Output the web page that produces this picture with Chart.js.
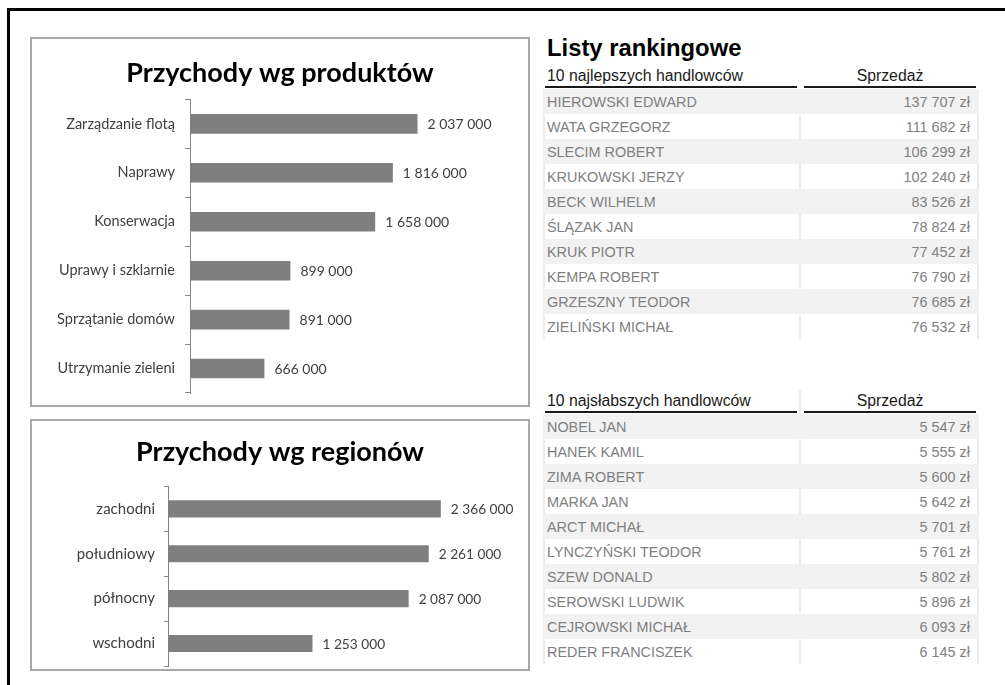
<!DOCTYPE html>
<html lang="pl">
<head>
<meta charset="UTF-8">
<title>Przychody i listy rankingowe</title>
<script src="https://cdn.jsdelivr.net/npm/chart.js"></script>
<style>
  html, body { margin: 0; padding: 0; background: #fff; overflow: hidden; }
  body { width: 1005px; height: 685px; position: relative; }
  .ramka { position: absolute; left: 7px; top: 8px; width: 1100px; height: 800px; border: 3px solid #000; }
  .box { position: absolute; left: 30px; width: 500px; box-sizing: border-box; border: 2px solid #a8a8a8; background: #fff; }
  .wykres { position: absolute; left: 32px; width: 496px; }
  .tytul { position: absolute; left: 547px; top: 35px; font: bold 23.8px/26px "Liberation Sans", Arial, sans-serif; color: #000; }
  .naglowek { position: absolute; height: 22px; box-sizing: border-box; border-bottom: 2px solid #1a1a1a;
              font: 15.8px/20px "Liberation Sans", Arial, sans-serif; color: #1a1a1a; white-space: nowrap; }
  .wiersz { position: absolute; left: 543px; width: 436px; height: 25px; display: flex;
            font: 14.4px/23px "Liberation Sans", Arial, sans-serif; color: #808080; }
  .wiersz div { box-sizing: border-box; height: 25px; padding-top: 2px; white-space: nowrap; border-style: solid; border-width: 0; }
  .wiersz .n { width: 257px; padding-left: 2px; border-left-width: 2px; border-right-width: 1px; }
  .wiersz .v { width: 179px; padding-right: 7px; text-align: right; border-left-width: 1px; border-right-width: 2px; }
  .wiersz.szary { background: #f2f2f2; }
  .wiersz.szary div { border-color: #f2f2f2; }
  .wiersz.bialy div { border-color: #ebebeb; }
</style>
</head>
<body>
<div class="ramka"></div>

<div class="box" style="top:37px;height:370px;"></div>
<div class="wykres" style="top:39px;height:366px;"><canvas id="wykresProdukty"></canvas></div>

<div class="box" style="top:419px;height:252px;"></div>
<div class="wykres" style="top:421px;height:248px;"><canvas id="wykresRegiony"></canvas></div>

<div class="tytul">Listy rankingowe</div>
<div id="tabele"></div>

<script>
const produkty = ['Zarządzanie flotą', 'Naprawy', 'Konserwacja', 'Uprawy i szklarnie', 'Sprzątanie domów', 'Utrzymanie zieleni'];
const przychodyProdukty = [2037000, 1816000, 1658000, 899000, 891000, 666000];

const regiony = ['zachodni', 'południowy', 'północny', 'wschodni'];
const przychodyRegiony = [2366000, 2261000, 2087000, 1253000];

const najlepsiNazwy = ['HIEROWSKI EDWARD', 'WATA GRZEGORZ', 'SLECIM ROBERT', 'KRUKOWSKI JERZY', 'BECK WILHELM',
  'ŚLĄZAK JAN', 'KRUK PIOTR', 'KEMPA ROBERT', 'GRZESZNY TEODOR', 'ZIELIŃSKI MICHAŁ'];
const najlepsiSprzedaz = [137707, 111682, 106299, 102240, 83526, 78824, 77452, 76790, 76685, 76532];

const najslabsiNazwy = ['NOBEL JAN', 'HANEK KAMIL', 'ZIMA ROBERT', 'MARKA JAN', 'ARCT MICHAŁ',
  'LYNCZYŃSKI TEODOR', 'SZEW DONALD', 'SEROWSKI LUDWIK', 'CEJROWSKI MICHAŁ', 'REDER FRANCISZEK'];
const najslabsiSprzedaz = [5547, 5555, 5600, 5642, 5701, 5761, 5802, 5896, 6093, 6145];

// spacje jako separator tysięcy (również dla liczb 4-cyfrowych)
function fmt(n) {
  return String(n).replace(/\B(?=(\d{3})+(?!\d))/g, '\u00a0');
}

// etykiety wartości za końcem słupka
const etykietyWartosci = {
  id: 'etykietyWartosci',
  afterDatasetsDraw(chart, args, opts) {
    const ctx = chart.ctx;
    const meta = chart.getDatasetMeta(0);
    const dane = chart.data.datasets[0].data;
    ctx.save();
    ctx.font = opts.size + 'px Lato';
    ctx.fillStyle = '#404040';
    ctx.textAlign = 'left';
    ctx.textBaseline = 'middle';
    meta.data.forEach((bar, i) => ctx.fillText(fmt(dane[i]), bar.x + 10, bar.y + 1));
    ctx.restore();
  }
};

function wykres(id, etykiety, wartosci, o) {
  return new Chart(document.getElementById(id), {
    type: 'bar',
    data: {
      labels: etykiety,
      datasets: [{
        data: wartosci,
        backgroundColor: '#7f7f7f',
        barPercentage: o.bar,
        categoryPercentage: 1
      }]
    },
    plugins: [etykietyWartosci],
    options: {
      indexAxis: 'y',
      responsive: true,
      maintainAspectRatio: false,
      animation: false,
      events: [],
      layout: { padding: { top: 0, left: 0, right: 0, bottom: o.dol } },
      plugins: {
        legend: { display: false },
        tooltip: { enabled: false },
        title: {
          display: true,
          text: o.tytul,
          color: '#000',
          font: { family: 'Lato', size: 27, weight: 'bold' },
          padding: { top: o.tytulGora, bottom: o.tytulDol }
        },
        etykietyWartosci: { size: o.rozmiarWart }
      },
      scales: {
        // oś wartości ukryta, zakres dobrany do długości słupków z oryginału
        x: { display: false, min: 0, max: o.max },
        y: {
          grid: { drawOnChartArea: false, drawTicks: true, tickLength: o.kreska, color: '#868686', offset: true },
          border: { display: true, color: '#868686' },
          ticks: { padding: o.odstep, color: '#404040', font: { family: 'Lato', size: o.rozmiar } },
          afterFit(s) { s.width = o.szer; s.paddingTop = 0; s.paddingBottom = 0; }
        }
      }
    }
  });
}

wykres('wykresProdukty', produkty, przychodyProdukty, {
  tytul: 'Przychody wg produktów', tytulGora: 18, tytulDol: 10,
  max: 3026000, dol: 12, szer: 158, kreska: 5, odstep: 10, bar: 0.4, rozmiar: 14.5, rozmiarWart: 14
});

wykres('wykresRegiony', regiony, przychodyRegiony, {
  tytul: 'Przychody wg regionów', tytulGora: 15, tytulDol: 18,
  max: 3122000, dol: 3, szer: 136, kreska: 4, odstep: 9, bar: 0.38, rozmiar: 15, rozmiarWart: 13.7
});

// tabele rankingowe
function tabela(naglowek, nazwy, kwoty, top) {
  let html = '<div class="naglowek" style="left:545px;width:252px;padding-left:2px;top:' + (top - 23) + 'px;">' + naglowek + '</div>' +
    '<div class="naglowek" style="left:804px;width:172px;top:' + (top - 23) + 'px;text-align:center;">Sprzedaż</div>';
  nazwy.forEach((n, i) => {
    html += '<div class="wiersz ' + (i % 2 === 0 ? 'szary' : 'bialy') + '" style="top:' + (top + i * 25) + 'px;">' +
      '<div class="n">' + n + '</div><div class="v">' + fmt(kwoty[i]) + ' zł</div></div>';
  });
  return html;
}

document.getElementById('tabele').innerHTML =
  tabela('10 najlepszych handlowców', najlepsiNazwy, najlepsiSprzedaz, 89) +
  '<div style="position:absolute;left:799px;top:390px;width:2px;height:24px;background:#ebebeb;"></div>' +
  tabela('10 najsłabszych handlowców', najslabsiNazwy, najslabsiSprzedaz, 414);
</script>
</body>
</html>
